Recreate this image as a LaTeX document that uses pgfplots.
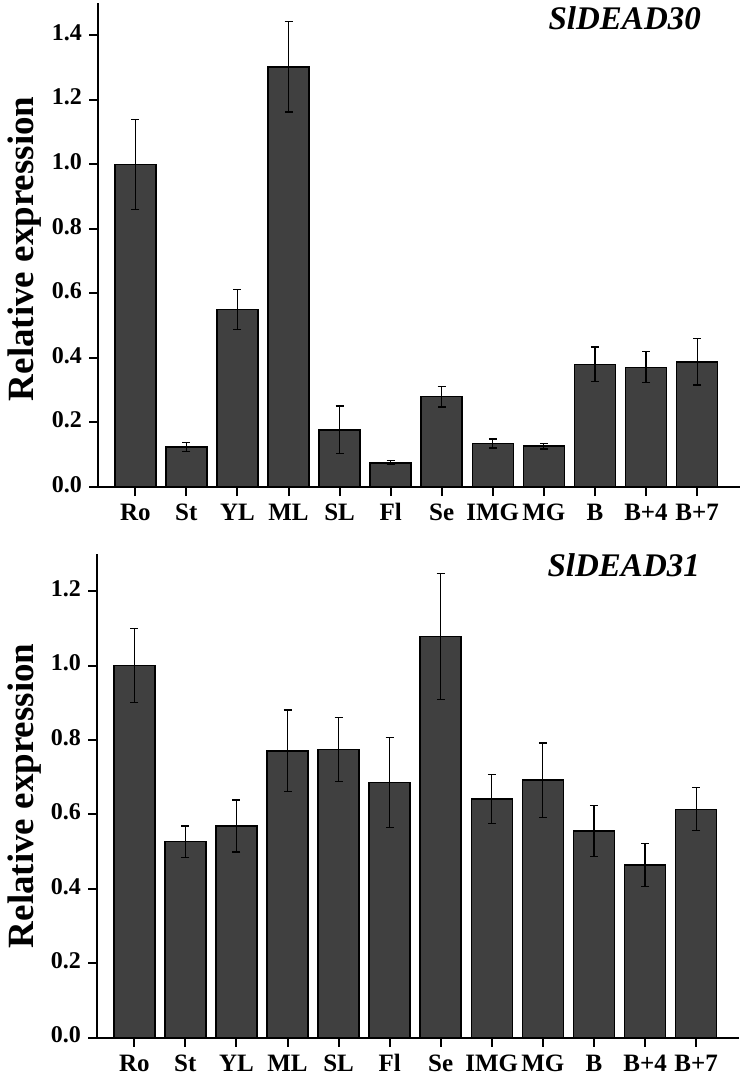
\documentclass[border=0pt]{standalone}
\usepackage{fontspec}
\setmainfont{Liberation Serif}
\usepackage{pgfplots}
\usepackage{pgfplotstable}
\pgfplotsset{compat=1.18}
\definecolor{barfill}{HTML}{404040}

\pgfplotstableread{
x y e
0 1.000 0.140
1 0.124 0.014
2 0.550 0.062
3 1.302 0.140
4 0.177 0.074
5 0.075 0.006
6 0.280 0.032
7 0.135 0.014
8 0.127 0.009
9 0.380 0.054
10 0.371 0.048
11 0.388 0.072
}\topdata

\pgfplotstableread{
x y e
0 1.000 0.100
1 0.527 0.042
2 0.569 0.070
3 0.771 0.110
4 0.774 0.086
5 0.686 0.120
6 1.078 0.170
7 0.641 0.066
8 0.692 0.100
9 0.556 0.069
10 0.464 0.058
11 0.614 0.058
}\botdata

\pgfplotsset{
  myax/.style={
    scale only axis, width=321pt,
    axis x line*=bottom, axis y line*=left,
    axis line style={line width=1pt, -},
    tick align=outside, major tick length=4.5pt,
    tick style={line width=1pt, black},
    xmin=-0.73, xmax=11.84,
    xtick={0,...,11},
    xticklabels={Ro,St,YL,ML,SL,Fl,Se,IMG,MG,B,B+4,B+7},
    typeset ticklabels with strut,
    x tick label style={font=\fontsize{12.5}{14}\selectfont\bfseries, yshift=1pt},
    y tick label style={font=\fontsize{12}{13}\selectfont\bfseries},
    yticklabel style={/pgf/number format/.cd, fixed, fixed zerofill, precision=1, assume math mode=true},
    ymin=0,
    ylabel={Relative expression},
    ylabel style={font=\fontsize{18.5}{20}\selectfont\bfseries, anchor=center},
    clip=false,
  },
  mybar/.style={
    ybar, bar width=20.5pt, bar shift=0pt, fill=barfill, draw=black, line width=0.75pt,
    error bars/.cd, y dir=both, y explicit,
    error bar style={line width=0.6pt, black},
    error mark options={rotate=90, line width=0.6pt, mark size=2pt, black},
  },
}

\begin{document}
\begin{tikzpicture}
\path[use as bounding box] (0,0) rectangle (370pt,-537.5pt);
\begin{axis}[myax, at={(49pt,-243.5pt)}, anchor=south west,
  height=242pt, ymax=1.5, ytick={0,0.2,0.4,0.6,0.8,1.0,1.2,1.4},
  ylabel style={at={(axis description cs:-0.114,0.492)}}]
\addplot[mybar] table[x=x, y=y, y error=e] {\topdata};
\node[anchor=base east, font=\fontsize{16.5}{18}\selectfont\bfseries\itshape] at (rel axis cs:0.950,0.945) {SlDEAD30};
\end{axis}
\begin{axis}[myax, at={(48.5pt,-518.85pt)}, anchor=south west,
  height=241.85pt, ymax=1.3, ytick={0,0.2,0.4,0.6,0.8,1.0,1.2},
  ylabel style={at={(axis description cs:-0.112,0.5)}}]
\addplot[mybar] table[x=x, y=y, y error=e] {\botdata};
\node[anchor=base east, font=\fontsize{16.5}{18}\selectfont\bfseries\itshape] at (rel axis cs:0.950,0.953) {SlDEAD31};
\end{axis}
\end{tikzpicture}
\end{document}
